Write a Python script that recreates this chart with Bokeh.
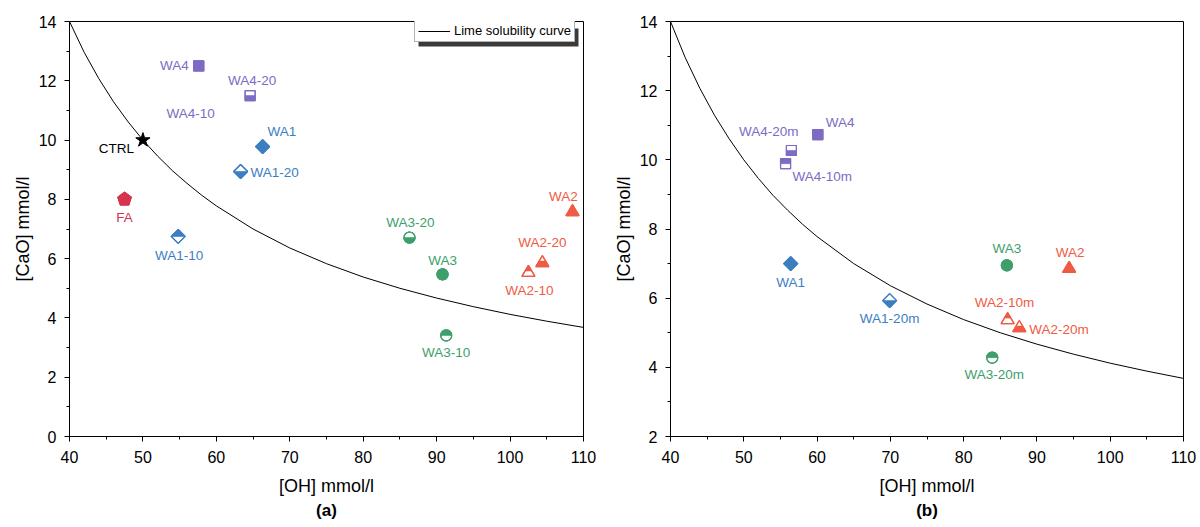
import math
from bokeh.plotting import figure
from bokeh.models import (FixedTicker, Legend, LegendItem, BoxAnnotation, Title,
                          ColumnDataSource)
from bokeh.layouts import row
from bokeh.core.properties import value
from bokeh.embed import file_html
from bokeh.resources import INLINE

# ---------------- data ----------------
# lime solubility curve
curve_oh = [40, 42, 44, 46, 48, 50, 52, 54, 56, 58, 60, 65, 70, 75, 80, 85, 90, 95, 100, 105, 110]
curve_cao = [14.00, 12.96, 12.07, 11.29, 10.61, 10.00, 9.46, 8.97, 8.54, 8.14, 7.78, 7.00,
             6.36, 5.83, 5.38, 5.00, 4.67, 4.38, 4.12, 3.89, 3.68]

# panel (a)
a_labels = ["WA4", "WA4-20", "WA4-10", "CTRL", "WA1", "WA1-20", "FA", "WA1-10",
            "WA3-20", "WA3", "WA3-10", "WA2", "WA2-20", "WA2-10"]
a_oh = [57.6, 64.6, 56.5, 50.0, 66.3, 63.3, 47.5, 54.8, 86.3, 90.8, 91.3, 108.5, 104.4, 102.5]
a_cao = [12.5, 11.5, 10.9, 10.0, 9.78, 8.94, 8.0, 6.75, 6.71, 5.47, 3.41, 7.62, 5.90, 5.57]

# panel (b)
b_labels = ["WA4", "WA4-20m", "WA4-10m", "WA1", "WA1-20m", "WA3", "WA2",
            "WA2-10m", "WA2-20m", "WA3-20m"]
b_oh = [60.1, 56.5, 55.7, 56.4, 69.9, 85.9, 94.4, 86.0, 87.6, 83.9]
b_cao = [10.73, 10.27, 9.89, 7.00, 5.93, 6.95, 6.89, 5.41, 5.18, 4.28]

# ---------------- styles ----------------
PURPLE = "#7E6BC4"
BLUE = "#3D7EC1"
GREEN = "#3E9F6C"
RED = "#EF5B44"
CRIMSON = "#D6334F"
FONT = "Liberation Sans"

a_shape = ["square", "square", None, "star", "diamond", "diamond", "pentagon", "diamond",
           "circle", "circle", "circle", "triangle", "triangle", "triangle"]
a_part = ["full", "bottom", None, "full", "full", "bottom", "full", "top",
          "bottom", "full", "top", "full", "bottom", "top"]
a_color = [PURPLE, PURPLE, PURPLE, "black", BLUE, BLUE, CRIMSON, BLUE,
           GREEN, GREEN, GREEN, RED, RED, RED]
a_dx = [-10, 2, 0, -9, 5, 10, 0, 1, 1, 0, 0, -9, 0, 1]
a_dy = [0, -15, 0, 8, -15, 1, 18, 19, -15, -14, 17, -14, -19, 19]
a_align = ["right", "center", "center", "right", "left", "left", "center", "center",
           "center", "center", "center", "center", "center", "center"]

b_shape = ["square", "square", "square", "diamond", "diamond", "circle", "triangle",
           "triangle", "triangle", "circle"]
b_part = ["full", "bottom", "top", "full", "bottom", "full", "full", "top", "bottom", "top"]
b_color = [PURPLE, PURPLE, PURPLE, BLUE, BLUE, GREEN, RED, RED, RED, GREEN]
b_dx = [8, 7, 7, 0, 0, 0, 1, -3, 10, 2]
b_dy = [-12, -19, 13, 19, 18, -17, -15, -16, 3, 17]
b_align = ["left", "right", "left", "center", "center", "center", "center", "center",
           "left", "center"]

FRAME_H = 415


def shape_offsets(kind, part):
    """pixel offsets (dx, dy) with y up."""
    if kind == "square":
        a = 5
        if part == "bottom":
            return [(-a, -a), (a, -a), (a, 0), (-a, 0)]
        if part == "top":
            return [(-a, 0), (a, 0), (a, a), (-a, a)]
        return [(-a, -a), (a, -a), (a, a), (-a, a)]
    if kind == "diamond":
        r = 7
        if part == "bottom":
            return [(-r, 0), (0, -r), (r, 0)]
        if part == "top":
            return [(-r, 0), (0, r), (r, 0)]
        return [(-r, 0), (0, -r), (r, 0), (0, r)]
    if kind == "circle":
        r = 5.5
        if part == "bottom":
            angs = [math.pi + math.pi * i / 16 for i in range(17)]
        elif part == "top":
            angs = [math.pi * i / 16 for i in range(17)]
        else:
            angs = [2 * math.pi * i / 32 for i in range(32)]
        return [(r * math.cos(t), r * math.sin(t)) for t in angs]
    if kind == "triangle":
        w, top, bot = 6.5, 6.0, -5.0
        mid = (top + bot) / 2
        hw = w * (top - mid) / (top - bot)
        if part == "bottom":
            return [(-w, bot), (w, bot), (hw, mid), (-hw, mid)]
        if part == "top":
            return [(-hw, mid), (hw, mid), (0, top)]
        return [(-w, bot), (w, bot), (0, top)]
    if kind == "pentagon":
        r = 7
        return [(r * math.cos(math.pi / 2 + 2 * math.pi * i / 5),
                 r * math.sin(math.pi / 2 + 2 * math.pi * i / 5)) for i in range(5)]
    return []


def make_panel(oh, cao, labels, shapes, parts, colors, dxs, dys, aligns,
               ymin, ymax, frame_w, border_l, border_r, tag, legend=False):
    p = figure(frame_width=frame_w, frame_height=FRAME_H,
               x_range=(40, 110), y_range=(ymin, ymax),
               output_backend="svg", toolbar_location=None,
               min_border_left=border_l, min_border_right=border_r,
               min_border_top=21, min_border_bottom=91,
               background_fill_color="white", border_fill_color="white")
    p.grid.visible = False
    p.outline_line_color = "black"
    p.outline_line_width = 1
    p.outline_line_alpha = 1

    sx = frame_w / 70.0
    sy = FRAME_H / float(ymax - ymin)

    for ax in (p.xaxis[0], p.yaxis[0]):
        ax.axis_line_color = "black"
        ax.major_tick_line_color = "black"
        ax.minor_tick_line_color = "black"
        ax.major_tick_in = 0
        ax.major_tick_out = 5
        ax.minor_tick_in = 0
        ax.minor_tick_out = 3
        ax.major_label_text_font = FONT
        ax.major_label_text_font_size = "16px"
        ax.major_label_text_color = "black"
        ax.axis_label_text_font = FONT
        ax.axis_label_text_font_size = "18px"
        ax.axis_label_text_font_style = "normal"
        ax.axis_label_text_color = "black"
    p.xaxis[0].ticker = FixedTicker(ticks=list(range(40, 111, 10)),
                                    minor_ticks=list(range(45, 110, 10)))
    p.yaxis[0].ticker = FixedTicker(ticks=list(range(ymin, ymax + 1, 2)),
                                    minor_ticks=list(range(ymin + 1, ymax, 2)))
    p.xaxis[0].axis_label = "[OH] mmol/l"
    p.yaxis[0].axis_label = "[CaO] mmol/l"
    p.xaxis[0].major_label_standoff = 9
    p.yaxis[0].major_label_standoff = 8
    p.xaxis[0].axis_label_standoff = 10
    p.yaxis[0].axis_label_standoff = 3

    curve = p.line(curve_oh, curve_cao, line_color="black", line_width=1)

    if legend:
        # shadow of the legend box
        def px2x(px):
            return 40 + px / sx

        def py2y(py):
            return ymax - py / sy
        p.add_layout(BoxAnnotation(left=px2x(349), right=px2x(509),
                                   top=py2y(7), bottom=py2y(25),
                                   fill_color="#3a3a3a", fill_alpha=1,
                                   line_alpha=0))
        lg = Legend(items=[LegendItem(label="Lime solubility curve", renderers=[curve])],
                    location=(345, 394), padding=3, spacing=0,
                    glyph_width=32, glyph_height=12, label_height=12,
                    label_standoff=4, label_text_font=FONT,
                    label_text_font_size="13px", label_text_color="black",
                    border_line_color="#666666", border_line_width=1,
                    background_fill_color="white", background_fill_alpha=1,
                    margin=0)
        p.add_layout(lg)

    # markers built as polygons (to allow half-filled symbols)
    out_xs, out_ys, out_c = [], [], []
    fill_xs, fill_ys, fill_c = [], [], []
    star_x, star_y = [], []
    for x, y, kind, part, c in zip(oh, cao, shapes, parts, colors):
        if kind is None:
            continue
        if kind == "star":
            star_x.append(x)
            star_y.append(y)
            continue
        full = shape_offsets(kind, "full")
        out_xs.append([x + dx / sx for dx, dy in full])
        out_ys.append([y + dy / sy for dx, dy in full])
        out_c.append(c)
        half = shape_offsets(kind, part)
        fill_xs.append([x + dx / sx for dx, dy in half])
        fill_ys.append([y + dy / sy for dx, dy in half])
        fill_c.append(c)
    p.patches(out_xs, out_ys, fill_color="white", line_color=out_c, line_width=1.2)
    p.patches(fill_xs, fill_ys, fill_color=fill_c, line_color=fill_c, line_width=0.6)
    p.patches(out_xs, out_ys, fill_alpha=0, line_color=out_c, line_width=1.2)
    if star_x:
        p.scatter(star_x, star_y, marker="star", size=15, fill_color="black",
                  line_color="black")

    src = ColumnDataSource(dict(x=oh, y=cao, t=labels, dx=dxs, dy=dys, al=aligns, c=colors))
    p.text(x="x", y="y", text="t", x_offset="dx", y_offset="dy", text_align="al",
           text_baseline="middle", text_color="c", text_font=value(FONT),
           text_font_size="13.5px", source=src)

    p.add_layout(Title(text=tag, align="center", text_font=FONT,
                       text_font_size="17px", text_font_style="bold",
                       text_color="black", standoff=0), "below")
    return p


pa = make_panel(a_oh, a_cao, a_labels, a_shape, a_part, a_color, a_dx, a_dy, a_align,
                0, 14, 514, 69, 17, "(a)", legend=True)
pb = make_panel(b_oh, b_cao, b_labels, b_shape, b_part, b_color, b_dx, b_dy, b_align,
                2, 14, 513, 70, 17, "(b)")

layout = row(pa, pb)
open("out.html", "w").write(file_html(layout, INLINE))
